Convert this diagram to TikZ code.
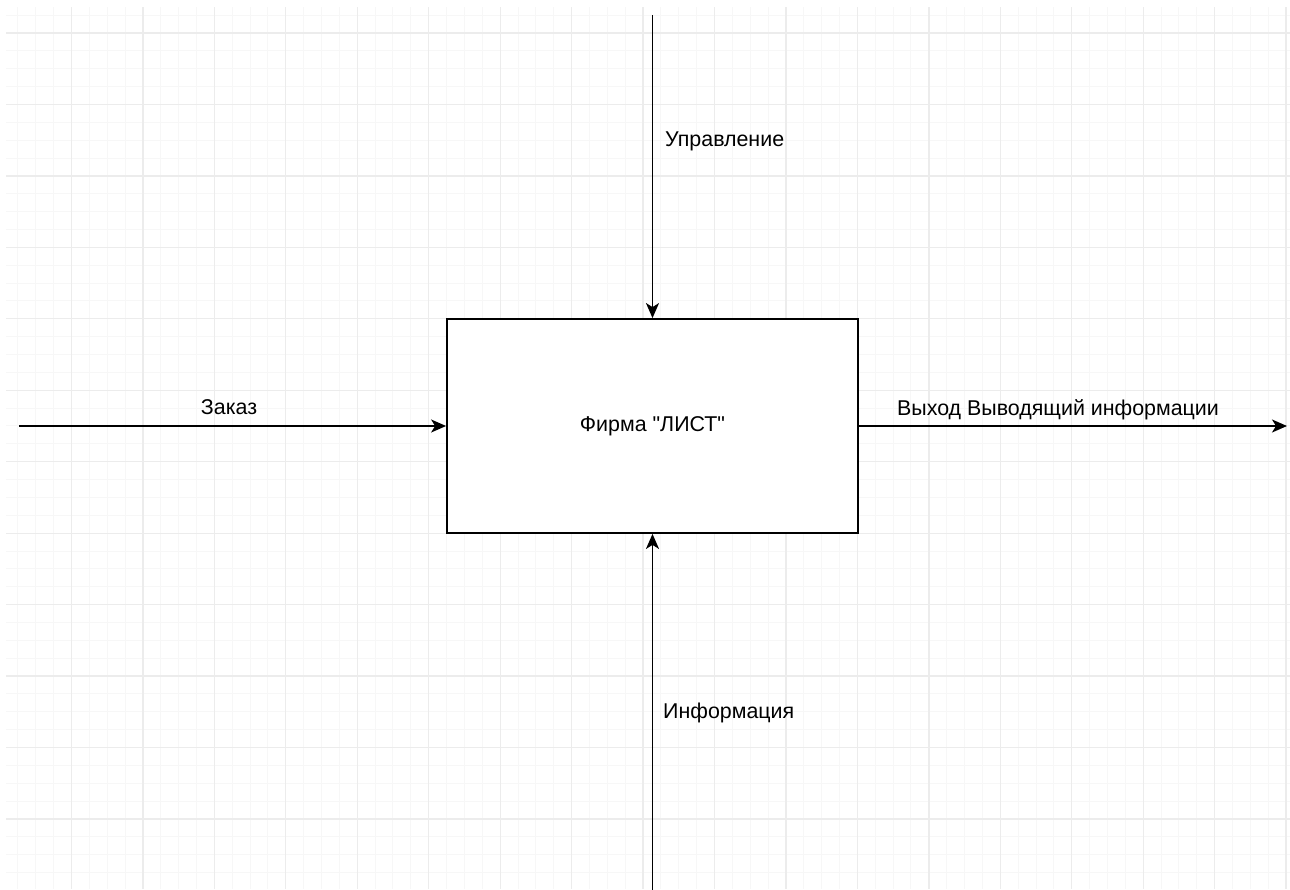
\documentclass[tikz,border=0pt]{standalone}
\usepackage{fontspec}
\setmainfont{Liberation Sans}
\usetikzlibrary{arrows.meta}
\definecolor{gridminor}{RGB}{247,247,247}
\definecolor{gridmajor}{RGB}{236,236,236}
\tikzset{
  lbl/.style={inner sep=0pt, font=\fontsize{21.4}{25}\selectfont},
  procbox/.style={draw, line width=1.8pt, fill=white, minimum width=411pt, minimum height=214pt, inner sep=0pt, font=\fontsize{21.4}{25}\selectfont},
  arr/.style={line width=1.8pt, -{Stealth[length=15pt,width=13pt,inset=4pt]}}
}
\begin{document}
\begin{tikzpicture}[x=1pt,y=-1pt]
\useasboundingbox (0,0) rectangle (1290,890);
\fill[white] (0,0) rectangle (1290,890);
% grid
\begin{scope}
\clip (6,8) rectangle (1290,888);
\foreach \i in {0,...,73} {
  \draw[gridminor, line width=1pt] ({\i*17.8625},0) -- ({\i*17.8625},890);
}
\foreach \j in {-1,...,49} {
  \draw[gridminor, line width=1pt] (0,{33+\j*17.8625}) -- (1290,{33+\j*17.8625});
}
\foreach \i in {0,...,18} {
  \draw[gridmajor, line width=1.3pt] ({\i*71.45},0) -- ({\i*71.45},890);
}
\foreach \j in {0,...,12} {
  \draw[gridmajor, line width=1.3pt] (0,{33+\j*71.45}) -- (1290,{33+\j*71.45});
}
\end{scope}
% box
\node[procbox] (box) at (652.5,426) {};
\node[lbl, anchor=base] (boxlbl) at (652.5,431) {Фирма \textquotedbl ЛИСТ\textquotedbl};
% connector ends
\coordinate (inL) at (19,426);
\coordinate (outR) at (1287,426);
\coordinate (ctrlT) at (652.5,15);
\coordinate (mechB) at (652.5,891);
\draw[arr] (inL) -- (box.west);
\draw[arr] (box.east) -- (outR);
\draw[arr] (ctrlT) -- (box.north);
\draw[arr] (mechB) -- (box.south);
% labels
\node[lbl, anchor=base] (lin) at (229,414) {Заказ};
\node[lbl, anchor=base] (lout) at (1058,415) {Выход Выводящий информации};
\node[lbl, anchor=base west] (lctrl) at (665,147) {Управление};
\node[lbl, anchor=base west] (lmech) at (663,718) {Информация};
\end{tikzpicture}
\end{document}
